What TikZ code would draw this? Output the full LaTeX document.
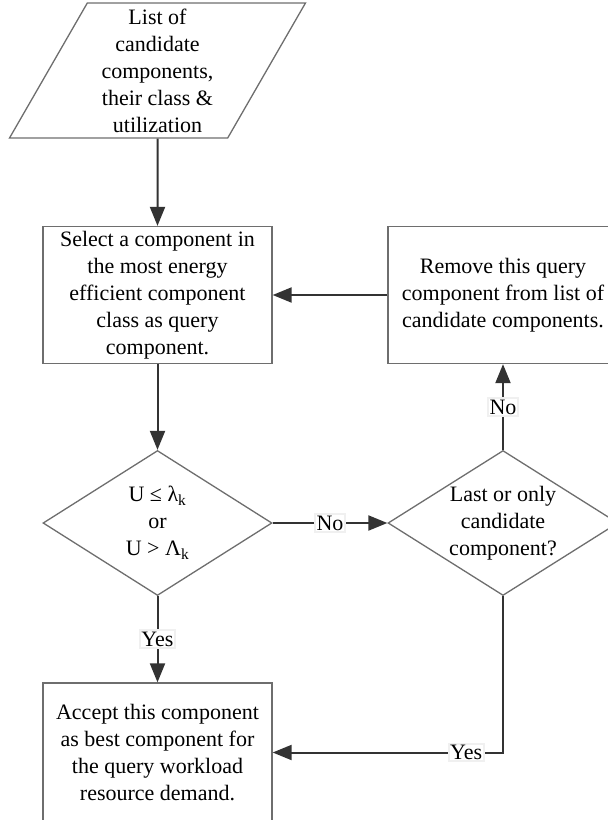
\documentclass[tikz,border=0pt]{standalone}
\usepackage{fontspec}
\setmainfont{Liberation Serif}
\usepackage{tikz}
\usetikzlibrary{arrows.meta,shapes.geometric,positioning,calc}
\definecolor{shapegray}{HTML}{6E6E6E}
\definecolor{wiregray}{HTML}{333333}
\tikzset{
  procbox/.style={rectangle, draw=shapegray, line width=1.3pt, fill=white,
                  align=center, font=\fontsize{22}{27}\selectfont,
                  minimum width=229pt, minimum height=137pt, inner sep=0pt},
  decide/.style={diamond, draw=shapegray, line width=1.3pt, fill=white, aspect=1.58,
                 align=center, font=\fontsize{22}{27}\selectfont,
                 minimum width=229pt, minimum height=145pt, inner sep=0pt},
  inout/.style={trapezium, trapezium left angle=63.4, trapezium right angle=116.6,
                trapezium stretches=true, draw=shapegray, line width=1.3pt, fill=white,
                align=center, font=\fontsize{22}{27}\selectfont,
                minimum width=296pt, minimum height=135pt, inner sep=0pt},
  arr/.style={-{Triangle[length=19pt,width=15pt]}, line width=2pt, draw=wiregray},
  lbl/.style={fill=white, draw=gray!12, inner sep=1.5pt, font=\fontsize{22}{27}\selectfont},
}
\begin{document}
\begin{tikzpicture}[x=1pt, y=-1pt]
\useasboundingbox (0,0) rectangle (608,820);
\clip (0,0) rectangle (608,820);
\node[inout] (input) at (157.5,70.5) {List of\\candidate\\components,\\their class \&\\utilization};
\node[procbox] (select) at (157.5,295) {Select a component in\\the most energy\\efficient component\\class as query\\component.};
\node[procbox, minimum width=230pt] (remove) at (503,295) {Remove this query\\component from list of\\candidate components.};
\node[decide] (check) at (157.5,523) {U ≤ λ\textsubscript{k}\\or\\U > Λ\textsubscript{k}};
\node[decide, minimum width=230pt] (last) at (503,523) {Last or only\\candidate\\component?};
\node[procbox, minimum height=139pt] (accept) at (157.5,752.5) {Accept this component\\as best component for\\the query workload\\resource demand.};
\draw[arr] (input.south) -- (select.north);
\draw[arr] (select.south) -- (check.north);
\draw[arr] (check.east) -- node[lbl] {No} (last.west);
\draw[arr] (last.north) -- node[lbl] {No} (remove.south);
\draw[arr] (check.south) -- node[lbl] {Yes} (accept.north);
\draw[arr] (remove.west) -- (select.east);
\draw[arr] (last.south) |- node[lbl, pos=0.58] {Yes} (accept.east);
\end{tikzpicture}
\end{document}
